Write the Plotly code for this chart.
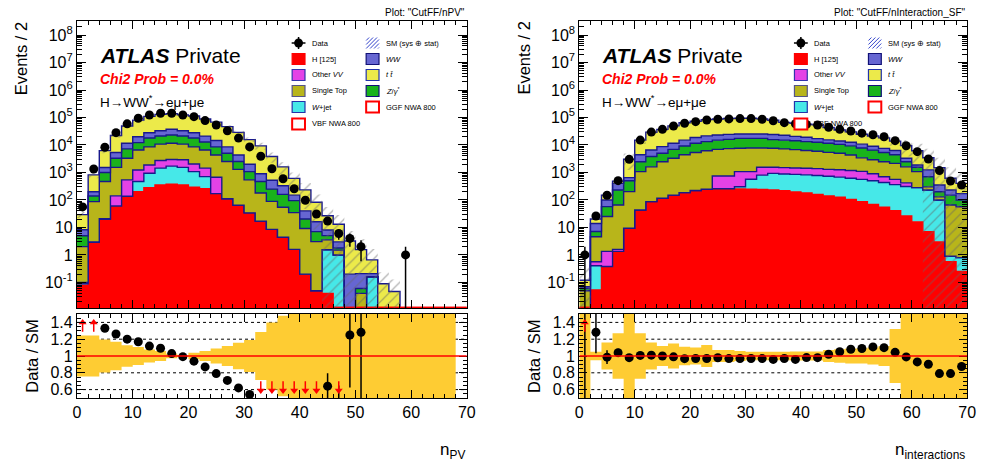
import math
import plotly.graph_objects as go

W, H = 987, 465
FONT = "Liberation Sans, Arial, Helvetica, sans-serif"

# ---------------------------------------------------------------- binning
BIN_EDGES = list(range(0, 72, 2))
BIN_CENTERS = [e + 1 for e in BIN_EDGES[:-1]]

# ---------------------------------------------------------------- n_PV
npv_data = [56, 1340, 8300, 28000, 58600, 93500, 123000, 142000, 142000, 123000,
            107000, 77000, 53500, 33000, 17800, 8500, 3900, 1360, 590, 255,
            98, 31, 17, 6, 4, 2, 0, 0, 0, 1, 0, 0, 0, 0, 0]
npv_h125 = [0.08, 2.8, 19, 57, 130, 200, 280, 350, 375, 350, 290, 255, 170, 110, 64,
            34, 17, 8.5, 4.4, 1.6, 0.2, 0.05, 0.04, 0, 0, 0, 0, 0, 0, 0, 0, 0, 0, 0, 0]
npv_wjet = [0.01, 0.1, 1, 3, 6, 268, 655, 1095, 1325, 1180, 780, 450, 0, 0, 0, 0, 0,
            0, 0, 0, 0, 0, 1.5, 1.0, 0, 0, 0.16, 0, 0, 0, 0, 0, 0, 0, 0]
npv_othervv = [0.01, 0.1, 1, 81, 400, 760, 935, 1275, 1275, 1360, 970, 740, 500,
               0, 0, 0, 0, 0, 0, 0, 0, 0, 0, 0, 0, 0, 0, 0, 0, 0, 0, 0, 0, 0, 0]
npv_singletop = [1.9, 84, 449, 1389, 2765, 5370, 6630, 7980, 8625, 7810, 6460, 5155,
                 3630, 2390, 1236, 506, 163, 80, 50, 33, 9, 3, 2, 0.5, 0, 0.04,
                 0, 0, 0, 0, 0, 0, 0, 0, 0]
npv_zgamma = [3.0, 53, 525, 1770, 3900, 5600, 9400, 10600, 11400, 10600, 9400, 6200,
              4200, 2500, 1200, 530, 290, 160, 105, 60, 11, 4, 1.5, 0.3, 0, 0.02,
              0, 0, 0, 0, 0, 0, 0, 0, 0]
npv_ww = [3.2, 60, 515, 2000, 4400, 7800, 10100, 11700, 14400, 11700, 10100, 8200,
          6000, 3500, 1800, 930, 430, 270, 170, 55, 20, 9, 3, 1.2, 0.2, 0.15, 0.05,
          0, 0, 0, 0, 0, 0, 0, 0]
npv_ttbar = [21, 620, 4730, 16900, 37200, 59900, 82000, 97000, 100600, 91000, 86000,
             67500, 53200, 38000, 24400, 13700, 8400, 3280, 1270, 460, 192, 67, 18.5,
             10, 3.0, 1.35, 0.45, 0.09, 0.047, 0, 0, 0, 0, 0, 0]
npv_ggf800 = [0] * 35
npv_vbf800 = [0] * 35
npv_sm_relerr = [0.245, 0.245, 0.196, 0.169, 0.129, 0.106, 0.078, 0.059, 0.027, 0.012,
                 0.039, 0.059, 0.09, 0.118, 0.157, 0.19, 0.286, 0.40, 0.48, 0.65,
                 0.8, 0.9, 1.1, 1.2, 1.3, 1.4, 1.5, 1.6, 1.7, 2.0, 2.0, 2.0, 2.0, 2.0, 0.0]

# ---------------------------------------------------------------- n_interactions
nint_data = [1, 26, 148, 505, 3000, 15100, 29500, 37000, 49000, 62000, 70500, 81000,
             86000, 89000, 91000, 91000, 86000, 76000, 64700, 59000, 56000, 53500,
             44000, 37000, 32300, 26900, 23600, 20000, 14400, 9400, 5700, 3100, 1170,
             490, 350]
nint_h125 = [0.005, 0.053, 0.38, 1.35, 9.3, 43, 87, 115, 150, 185, 220, 245, 257, 257,
             250, 245, 240, 230, 215, 196, 180, 160, 140, 125, 105, 87, 69, 54, 41, 26,
             16, 7, 3, 0.57, 0.25]
nint_wjet = [0.005, 0.35, 0, 0, 0, 0, 0, 0, 0, 0, 0, 0, 0, 0, 54, 320, 560, 700, 665,
             654, 640, 620, 590, 555, 515, 473, 431, 376, 319, 284, 264, 223, 97, 0.33,
             0.55]
nint_othervv = [0, 0.16, 0.97, 0.25, 0, 0, 0, 0, 0, 0, 0, 0, 488, 488, 766, 505, 750,
                620, 620, 600, 600, 600, 570, 570, 560, 540, 400, 270, 200, 110, 0, 0,
                0, 0, 0]
nint_singletop = [0.04, 4.0, 23.7, 64, 191, 1027, 1513, 2335, 3150, 4215, 5080, 5955,
                  6155, 6655, 6530, 6730, 6250, 6050, 5700, 5350, 4880, 4520, 4100,
                  3750, 3120, 2300, 2000, 1750, 1590, 1180, 790, 70, 30, 65, 56]
nint_zgamma = [0.01, 2.6, 32, 164, 300, 1380, 2200, 2550, 3600, 4800, 6200, 7000, 8100,
               8600, 9800, 9600, 9600, 8100, 7800, 7400, 7000, 6600, 6200, 5500, 5000,
               4400, 3600, 2850, 2250, 850, 480, 400, 70, 84, 43]
nint_ww = [0.01, 6.8, 43, 170, 150, 1950, 2800, 3700, 4600, 5800, 7100, 8200, 8000,
           8400, 7600, 7600, 7600, 8300, 7500, 6300, 5700, 4500, 3700, 3500, 3200, 2900,
           2500, 2200, 1900, 850, 310, 540, 150, 80, 70]
nint_ttbar = [0.05, 6.3, 50, 86, 2410, 10600, 22600, 28300, 38000, 49000, 54100, 62100,
              64800, 67400, 68800, 68800, 63700, 55200, 44200, 41000, 38100, 37600,
              27800, 21200, 17400, 14000, 12300, 10700, 7500, 6200, 4270, 2200, 1130,
              390, 230]
nint_ggf800 = [0] * 35
nint_vbf800 = [0] * 35
nint_sm_relerr = [2.0, 0.05, 0.16, 0.27, 0.6, 0.27, 0.16, 0.12, 0.15, 0.11, 0.1, 0.13,
                  0.07, 0.07, 0.06, 0.05, 0.05, 0.05, 0.05, 0.055, 0.055, 0.055, 0.07,
                  0.08, 0.09, 0.09, 0.10, 0.12, 0.32, 0.6, 0.8, 1.1, 1.3, 1.5, 1.6]

# ---------------------------------------------------------------- axis labels
LOG_TICK_VALS = [1e-1, 1, 10, 1e2, 1e3, 1e4, 1e5, 1e6, 1e7, 1e8]
LOG_TICK_TEXT = ["10<sup>-1</sup>", "1", "10", "10<sup>2</sup>", "10<sup>3</sup>",
                 "10<sup>4</sup>", "10<sup>5</sup>", "10<sup>6</sup>", "10<sup>7</sup>",
                 "10<sup>8</sup>"]
RATIO_TICK_VALS = [0.6, 0.8, 1.0, 1.2, 1.4]
RATIO_TICK_TEXT = ["0.6", "0.8", "1", "1.2", "1.4"]
RATIO_GRID = [0.6, 0.8, 1.2, 1.4]

LOG_RANGE = [-1.93, 8.51]
RATIO_RANGE = [0.5, 1.5]
FLOOR = 1e-3

# ---------------------------------------------------------------- style
C_H125 = "#FF0000"
C_WJET = "#46E8E8"
C_OTHERVV = "#E442E6"
C_SINGLETOP = "#B8B51A"
C_ZGAMMA = "#19B31B"
C_WW = "#6666D2"
C_TTBAR = "#ECEA4A"
C_EDGE = "#18188C"
C_BAND = "#FECC33"

STACK_ORDER = [("h125", C_H125, C_H125), ("wjet", C_WJET, C_EDGE),
               ("othervv", C_OTHERVV, C_EDGE), ("singletop", C_SINGLETOP, C_EDGE),
               ("zgamma", C_ZGAMMA, C_EDGE), ("ww", C_WW, C_EDGE),
               ("ttbar", C_TTBAR, C_EDGE)]

PANELS = [
    dict(xa="x", ya="y", xr="x2", yr="y2", left=74, right=469,
         data=npv_data, relerr=npv_sm_relerr, ggf=npv_ggf800, vbf=npv_vbf800,
         comps=dict(h125=npv_h125, wjet=npv_wjet, othervv=npv_othervv,
                    singletop=npv_singletop, zgamma=npv_zgamma, ww=npv_ww,
                    ttbar=npv_ttbar),
         title='Plot: "CutFF/nPV"', xtitle="n<sub>PV</sub>"),
    dict(xa="x3", ya="y3", xr="x4", yr="y4", left=583, right=976,
         data=nint_data, relerr=nint_sm_relerr, ggf=nint_ggf800, vbf=nint_vbf800,
         comps=dict(h125=nint_h125, wjet=nint_wjet, othervv=nint_othervv,
                    singletop=nint_singletop, zgamma=nint_zgamma, ww=nint_ww,
                    ttbar=nint_ttbar),
         title='Plot: "CutFF/nInteraction_SF"', xtitle="n<sub>interactions</sub>"),
]

TOP_Y = (21, 308)
RAT_Y = (314, 398)


def fx(p):
    return p / W


def fy(p):
    return 1 - p / H


def step(vals):
    vals = list(vals)
    return BIN_EDGES, vals + [vals[-1]]


fig = go.Figure()
shapes = []
annotations = []


def add_step(xa, ya, vals, **kw):
    xs, ys = step(vals)
    fig.add_trace(go.Scatter(x=xs, y=ys, mode="lines", line_shape="hv",
                             xaxis=xa, yaxis=ya, hoverinfo="skip", **kw))


for P in PANELS:
    xa, ya, xr, yr = P["xa"], P["ya"], P["xr"], P["yr"]
    nb = len(P["data"])

    # ---- stacked backgrounds
    add_step(xa, ya, [FLOOR] * nb, line=dict(width=0))
    cum = [0.0] * nb
    for key, fill, edge in STACK_ORDER:
        cum = [c + v for c, v in zip(cum, P["comps"][key])]
        add_step(xa, ya, [max(c, FLOOR) for c in cum], fill="tonexty",
                 fillcolor=fill, line=dict(color=edge, width=1.4))
    total = cum

    # ---- signal hypotheses (drawn at the axis floor where negligible)
    sig_floor = 10 ** (LOG_RANGE[0] + 0.012)
    for sig in (P["ggf"], P["vbf"]):
        add_step(xa, ya, [max(v, sig_floor) for v in sig],
                 line=dict(color="#FF0000", width=1.6))

    # ---- SM uncertainty band (hatched)
    lo = [max(t * (1 - r), FLOOR) if t > 0 else FLOOR for t, r in zip(total, P["relerr"])]
    hi = [max(t * (1 + r), FLOOR) if t > 0 else FLOOR for t, r in zip(total, P["relerr"])]
    add_step(xa, ya, lo, line=dict(width=0))
    add_step(xa, ya, hi, line=dict(width=0), fill="tonexty",
             fillcolor="rgba(0,0,0,0)",
             fillpattern=dict(shape="/", fgcolor="#666666", bgcolor="rgba(0,0,0,0)",
                              size=7, solidity=0.18))

    # ---- data with Poisson errors
    ex, ey, mx, my = [], [], [], []
    for c, d in zip(BIN_CENTERS, P["data"]):
        if d <= 0:
            continue
        s = math.sqrt(d)
        ex += [c, c, None]
        ey += [max(d - s, FLOOR), d + s, None]
        mx.append(c)
        my.append(d)
    fig.add_trace(go.Scatter(x=ex, y=ey, mode="lines", line=dict(color="black", width=1.5),
                             xaxis=xa, yaxis=ya, hoverinfo="skip"))
    fig.add_trace(go.Scatter(x=mx, y=my, mode="markers",
                             marker=dict(color="black", size=9),
                             xaxis=xa, yaxis=ya, hoverinfo="skip"))

    # ---- ratio panel: uncertainty band
    rlo = [max(1 - r, RATIO_RANGE[0] - 0.1) for r in P["relerr"]]
    rhi = [min(1 + r, RATIO_RANGE[1] + 0.1) for r in P["relerr"]]
    add_step(xr, yr, rlo, line=dict(width=0))
    add_step(xr, yr, rhi, line=dict(width=0), fill="tonexty", fillcolor=C_BAND)

    # ---- ratio points
    px_, py_, ex, ey = [], [], [], []
    up_x, dn_x = [], []
    for c, d, t in zip(BIN_CENTERS, P["data"], total):
        if d <= 0 or t <= 0:
            continue
        r = d / t
        e = math.sqrt(d) / t
        lo_e, hi_e = max(r - e, RATIO_RANGE[0]), min(r + e, RATIO_RANGE[1])
        if lo_e < hi_e:
            ex += [c, c, None]
            ey += [lo_e, hi_e, None]
        if r > RATIO_RANGE[1]:
            up_x.append(c)
        elif r < RATIO_RANGE[0]:
            dn_x.append(c)
        else:
            px_.append(c)
            py_.append(r)
    fig.add_trace(go.Scatter(x=ex, y=ey, mode="lines", line=dict(color="black", width=1.5),
                             xaxis=xr, yaxis=yr, hoverinfo="skip"))
    fig.add_trace(go.Scatter(x=px_, y=py_, mode="markers",
                             marker=dict(color="black", size=9),
                             xaxis=xr, yaxis=yr, hoverinfo="skip"))
    # out-of-range arrows
    ax, ay = [], []
    for c in up_x:
        ax += [c, c, None]
        ay += [1.29, 1.40, None]
    for c in dn_x:
        ax += [c, c, None]
        ay += [0.70, 0.59, None]
    fig.add_trace(go.Scatter(x=ax, y=ay, mode="lines", line=dict(color="#FF0000", width=1.5),
                             xaxis=xr, yaxis=yr, hoverinfo="skip"))
    fig.add_trace(go.Scatter(x=up_x + dn_x, y=[1.40] * len(up_x) + [0.59] * len(dn_x),
                             mode="markers",
                             marker=dict(color="#FF0000", size=7,
                                         symbol=["triangle-up"] * len(up_x)
                                         + ["triangle-down"] * len(dn_x)),
                             xaxis=xr, yaxis=yr, hoverinfo="skip"))

    # gridlines and unity line in the ratio panel
    for g in RATIO_GRID:
        shapes.append(dict(type="line", xref=xr, yref=yr, x0=0, x1=70, y0=g, y1=g,
                           line=dict(color="black", width=1, dash="dot"), layer="below"))
    shapes.append(dict(type="line", xref=xr, yref=yr, x0=0, x1=70, y0=1, y1=1,
                       line=dict(color="#FF0000", width=1.3), layer="above"))

    # ---- texts
    L, R = P["left"], P["right"]
    annotations += [
        dict(x=fx(R), y=fy(12.5), text=P["title"], xanchor="right", yanchor="middle",
             font=dict(size=10, color="black")),
        dict(x=fx(L + 21), y=fy(55), text="<b><i>ATLAS</i></b> Private",
             xanchor="left", yanchor="middle", font=dict(size=21, color="black")),
        dict(x=fx(L + 21), y=fy(79), text="<b><i>Chi2 Prob = 0.0%</i></b>",
             xanchor="left", yanchor="middle", font=dict(size=14, color="#FF0000")),
        dict(x=fx(L + 21), y=fy(101), text="H\u2192WW<sup>*</sup>\u2192e\u03bc+\u03bce",
             xanchor="left", yanchor="middle", font=dict(size=13.5, color="black")),
        dict(x=fx(L - 56), y=fy(20), text="Events / 2", textangle=-90,
             xanchor="center", yanchor="top", font=dict(size=16.5, color="black")),
        dict(x=fx(L - 46), y=fy(356), text="Data / SM", textangle=-90,
             xanchor="center", yanchor="middle", font=dict(size=16.5, color="black")),
        dict(x=fx(R), y=fy(451), text=P["xtitle"], xanchor="right", yanchor="middle",
             font=dict(size=17, color="black")),
    ]

    # ---- legend
    rows = [43, 59, 75, 91, 107, 124]
    c1, c2 = L + 224.5, L + 299.5
    t1, t2 = L + 236, L + 311
    bw, bh = 6.5, 5.5

    def box(cx, cy, fill, edge, width=1.2):
        shapes.append(dict(type="rect", xref="paper", yref="paper",
                           x0=fx(cx - bw), x1=fx(cx + bw), y0=fy(cy + bh), y1=fy(cy - bh),
                           fillcolor=fill, line=dict(color=edge, width=width)))

    def label(tx, cy, text):
        annotations.append(dict(x=fx(tx), y=fy(cy), text=text, xanchor="left",
                                yanchor="middle", font=dict(size=7.5, color="black")))

    # Data entry
    shapes.append(dict(type="line", xref="paper", yref="paper",
                       x0=fx(c1 - 7), x1=fx(c1 + 7), y0=fy(rows[0]), y1=fy(rows[0]),
                       line=dict(color="black", width=1.5)))
    shapes.append(dict(type="line", xref="paper", yref="paper",
                       x0=fx(c1), x1=fx(c1), y0=fy(rows[0] - 6), y1=fy(rows[0] + 6),
                       line=dict(color="black", width=1.5)))
    shapes.append(dict(type="circle", xref="paper", yref="paper",
                       x0=fx(c1 - 4.5), x1=fx(c1 + 4.5), y0=fy(rows[0] + 4.5),
                       y1=fy(rows[0] - 4.5), fillcolor="black", line=dict(width=0)))
    label(t1, rows[0], "Data")
    box(c1, rows[1], C_H125, C_H125)
    label(t1, rows[1], "H [125]")
    box(c1, rows[2], C_OTHERVV, "#3333AA")
    label(t1, rows[2], "Other <i>VV</i>")
    box(c1, rows[3], C_SINGLETOP, "#555588")
    label(t1, rows[3], "Single Top")
    box(c1, rows[4], C_WJET, "#2233AA")
    label(t1, rows[4], "<i>W</i>+jet")
    box(c1, rows[5], "white", "#FF0000", 2)
    label(t1, rows[5], "VBF NWA 800")

    # SM uncertainty entry: hatched swatch
    x0, x1, y0, y1 = c2 - bw, c2 + bw, rows[0] - bh, rows[0] + bh
    for k in range(-2, 4):
        xa0 = x0 + 4 * k
        xa1 = xa0 + (y1 - y0)
        sx0, sy0 = xa0, y1
        sx1, sy1 = xa1, y0
        if sx0 < x0:
            sy0 = y1 - (x0 - sx0)
            sx0 = x0
        if sx1 > x1:
            sy1 = y0 + (sx1 - x1)
            sx1 = x1
        if sx0 < sx1:
            shapes.append(dict(type="line", xref="paper", yref="paper",
                               x0=fx(sx0), x1=fx(sx1), y0=fy(sy0), y1=fy(sy1),
                               line=dict(color="#3344CC", width=1)))
    label(t2, rows[0], "SM (sys \u2295 stat)")
    box(c2, rows[1], C_WW, "#111177")
    label(t2, rows[1], "<i>WW</i>")
    box(c2, rows[2], C_TTBAR, "#2233AA")
    label(t2, rows[2], "<i>t t\u0304</i>")
    box(c2, rows[3], C_ZGAMMA, "#111177")
    label(t2, rows[3], "<i>Z</i>/<i>\u03b3</i><sup>*</sup>")
    box(c2, rows[4], "white", "#FF0000", 2)
    label(t2, rows[4], "GGF NWA 800")


# ---------------------------------------------------------------- axes
def frame_axis(**kw):
    base = dict(showline=True, linecolor="black", linewidth=1.2, mirror="allticks",
                ticks="inside", tickcolor="black", showgrid=False, zeroline=False,
                tickfont=dict(size=16, color="black", family=FONT))
    base.update(kw)
    return base


minor_log = [k * 10 ** d for d in range(-2, 9) for k in range(2, 10)]

layout_axes = {}
for P, (xn, yn, xrn, yrn) in zip(PANELS, [("xaxis", "yaxis", "xaxis2", "yaxis2"),
                                          ("xaxis3", "yaxis3", "xaxis4", "yaxis4")]):
    dom = [fx(P["left"]), fx(P["right"])]
    layout_axes[xn] = frame_axis(domain=dom, anchor=P["ya"], range=[0, 70], dtick=10,
                                 tick0=0, ticklen=8, showticklabels=False,
                                 minor=dict(dtick=2, tick0=0, ticks="inside", ticklen=4,
                                            tickcolor="black"))
    layout_axes[yn] = frame_axis(domain=[fy(TOP_Y[1]), fy(TOP_Y[0])], anchor=P["xa"],
                                 type="log", range=LOG_RANGE, tickmode="array",
                                 tickvals=LOG_TICK_VALS, ticktext=LOG_TICK_TEXT,
                                 ticklen=9,
                                 minor=dict(tickmode="array", tickvals=minor_log,
                                            ticks="inside", ticklen=5, tickcolor="black"))
    layout_axes[xrn] = frame_axis(domain=dom, anchor=P["yr"], range=[0, 70], dtick=10,
                                  tick0=0, ticklen=8,
                                  minor=dict(dtick=2, tick0=0, ticks="inside", ticklen=4,
                                             tickcolor="black"))
    layout_axes[yrn] = frame_axis(domain=[fy(RAT_Y[1]), fy(RAT_Y[0])], anchor=P["xr"],
                                  range=RATIO_RANGE, tickmode="array",
                                  tickvals=RATIO_TICK_VALS, ticktext=RATIO_TICK_TEXT,
                                  ticklen=8,
                                  minor=dict(dtick=0.05, tick0=0, ticks="inside",
                                             ticklen=4, tickcolor="black"))

fig.update_layout(
    width=W, height=H, margin=dict(l=0, r=0, t=0, b=0),
    paper_bgcolor="white", plot_bgcolor="white",
    showlegend=False,
    font=dict(family=FONT, color="black"),
    shapes=shapes, annotations=[dict(a, xref="paper", yref="paper", showarrow=False)
                                for a in annotations],
    **layout_axes,
)

fig.write_html("out.html")
